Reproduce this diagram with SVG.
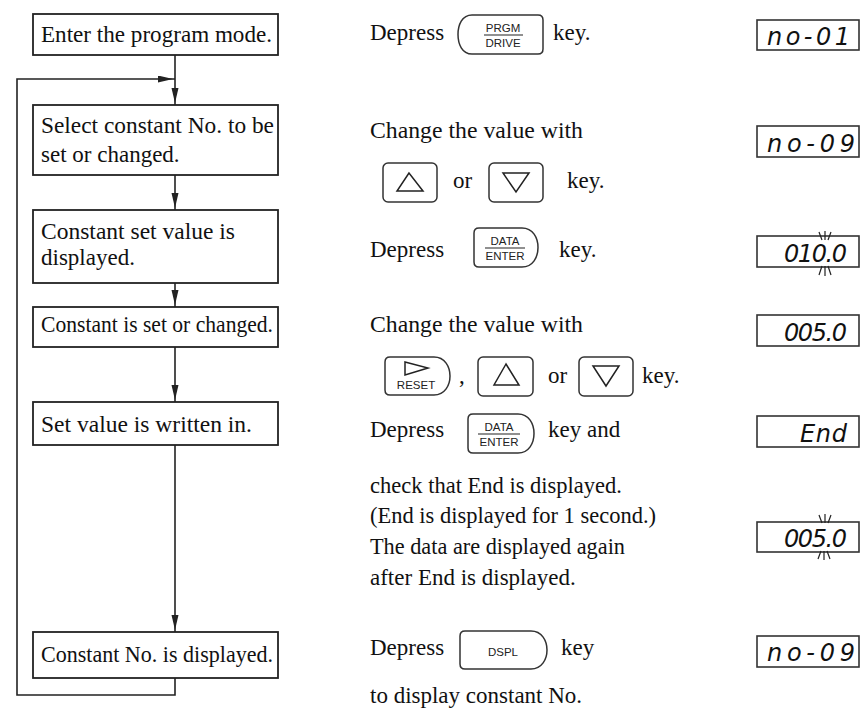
<svg xmlns="http://www.w3.org/2000/svg" width="860" height="708" viewBox="0 0 860 708">
<defs>
<style>
.bx{fill:#fff;stroke:#222;stroke-width:1.8}
.t{font-family:"Liberation Serif","Times New Roman",serif;font-size:23px;fill:#111}
.k{fill:#fff;stroke:#333;stroke-width:1.5}
.kl{font-family:"Liberation Sans",Arial,sans-serif;font-size:11.5px;fill:#222;text-anchor:middle}
.tri{fill:none;stroke:#222;stroke-width:1.5}
.ln{fill:none;stroke:#222;stroke-width:1.6}
.disp{fill:#fff;stroke:#333;stroke-width:1.6}
.seg{font-family:"DejaVu Sans",sans-serif;font-style:oblique;font-size:24px;fill:#111}
.fl{stroke:#222;stroke-width:1.2}
</style>
<marker id="ah" markerUnits="userSpaceOnUse" markerWidth="20" markerHeight="8" refX="17" refY="3.5" orient="auto">
<path d="M0,0 L15,3.5 L0,7 Z" fill="#222"/>
</marker>
</defs>

<g id="connectors">
<line class="ln" x1="175" y1="55" x2="175" y2="105" marker-end="url(#ah)"/>
<line class="ln" x1="175" y1="175" x2="175" y2="210" marker-end="url(#ah)"/>
<line class="ln" x1="175" y1="283" x2="175" y2="307" marker-end="url(#ah)"/>
<line class="ln" x1="175" y1="347" x2="175" y2="402" marker-end="url(#ah)"/>
<line class="ln" x1="175" y1="445" x2="175" y2="632" marker-end="url(#ah)"/>
<path class="ln" d="M175,678 V695 H17 V79 H175" marker-end="url(#ah)"/>
</g>

<g id="n1"><rect class="bx" x="33" y="14" width="245" height="41"/><text class="t" x="41" y="42" textLength="231" lengthAdjust="spacingAndGlyphs">Enter the program mode.</text></g>
<g id="n2"><rect class="bx" x="33" y="105" width="245" height="70"/><text class="t" x="41" y="133" textLength="233" lengthAdjust="spacingAndGlyphs">Select constant No. to be</text><text class="t" x="41" y="162">set or changed.</text></g>
<g id="n3"><rect class="bx" x="33" y="210" width="245" height="73"/><text class="t" x="41" y="239" textLength="194" lengthAdjust="spacingAndGlyphs">Constant set value is</text><text class="t" x="41" y="265">displayed.</text></g>
<g id="n4"><rect class="bx" x="33" y="307" width="245" height="40"/><text class="t" x="41" y="332" textLength="232" lengthAdjust="spacingAndGlyphs">Constant is set or changed.</text></g>
<g id="n5"><rect class="bx" x="33" y="402" width="245" height="43"/><text class="t" x="41" y="432" textLength="211" lengthAdjust="spacingAndGlyphs">Set value is written in.</text></g>
<g id="n6"><rect class="bx" x="33" y="632" width="245" height="46"/><text class="t" x="41" y="662" textLength="232" lengthAdjust="spacingAndGlyphs">Constant No. is displayed.</text></g>

<g id="step1">
<text class="t" x="370" y="40">Depress</text>
<path class="k" d="M472,15 H538 Q543,15 543,20 V49 Q543,54 538,54 H472 C462,54 458,44 458,34.5 C458,25 462,15 472,15 Z"/>
<text class="kl" x="503" y="32">PRGM</text><line class="fl" x1="484" y1="35" x2="523" y2="35"/><text class="kl" x="503" y="47">DRIVE</text>
<text class="t" x="553" y="40">key.</text>
</g>

<g id="step2">
<text class="t" x="370" y="138" textLength="213" lengthAdjust="spacingAndGlyphs">Change the value with</text>
<rect class="k" x="383" y="163" width="54" height="39" rx="5"/>
<path class="tri" d="M409,173 L397,191 H423 Z"/>
<text class="t" x="453" y="188">or</text>
<rect class="k" x="489" y="163" width="54" height="39" rx="5"/>
<path class="tri" d="M503,173 H529 L516,192 Z"/>
<text class="t" x="567" y="188">key.</text>
</g>

<g id="step3">
<text class="t" x="370" y="257">Depress</text>
<path class="k" d="M479,228 H522 C533,228 538,238 538,247.5 C538,257 533,267 522,267 H479 Q474,267 474,262 V233 Q474,228 479,228 Z"/>
<text class="kl" x="505" y="245">DATA</text><line class="fl" x1="485" y1="248" x2="525" y2="248"/><text class="kl" x="505" y="260">ENTER</text>
<text class="t" x="559" y="257">key.</text>
</g>

<g id="step4">
<text class="t" x="370" y="332" textLength="213" lengthAdjust="spacingAndGlyphs">Change the value with</text>
<path class="k" d="M390,357 H434 C445,357 450,367 450,376 C450,385 445,395 434,395 H390 Q385,395 385,390 V362 Q385,357 390,357 Z"/>
<path class="tri" d="M405,362 V375 L428,368 Z"/>
<text class="kl" x="416" y="389">RESET</text>
<text class="t" x="459" y="383">,</text>
<rect class="k" x="478" y="357" width="55" height="39" rx="5"/>
<path class="tri" d="M506,364 L494,385 H519 Z"/>
<text class="t" x="548" y="383">or</text>
<rect class="k" x="579" y="357" width="54" height="39" rx="5"/>
<path class="tri" d="M593,366 H619 L606,386 Z"/>
<text class="t" x="642" y="383">key.</text>
</g>

<g id="step5">
<text class="t" x="370" y="437">Depress</text>
<path class="k" d="M473,414 H518 C529,414 534,424 534,433.5 C534,443 529,453 518,453 H473 Q468,453 468,448 V419 Q468,414 473,414 Z"/>
<text class="kl" x="499" y="431">DATA</text><line class="fl" x1="478" y1="434" x2="520" y2="434"/><text class="kl" x="499" y="446">ENTER</text>
<text class="t" x="548" y="437">key and</text>
<text class="t" x="370" y="493" textLength="252" lengthAdjust="spacingAndGlyphs">check that End is displayed.</text>
<text class="t" x="370" y="523" textLength="286" lengthAdjust="spacingAndGlyphs">(End is displayed for 1 second.)</text>
<text class="t" x="370" y="554" textLength="255" lengthAdjust="spacingAndGlyphs">The data are displayed again</text>
<text class="t" x="370" y="585">after End is displayed.</text>
</g>

<g id="step6">
<text class="t" x="370" y="655">Depress</text>
<path class="k" d="M465,631 H531 C542,631 547,641 547,650 C547,659 542,669 531,669 H465 Q460,669 460,664 V636 Q460,631 465,631 Z"/>
<text class="kl" x="503" y="656">DSPL</text>
<text class="t" x="561" y="655">key</text>
<text class="t" x="370" y="703">to display constant No.</text>
</g>

<g id="displays">
<g id="d1"><rect class="disp" x="757" y="20" width="102" height="30"/><text class="seg" x="767" y="45" textLength="83" lengthAdjust="spacing">no-01</text></g>
<g id="d2"><rect class="disp" x="757" y="126" width="102" height="31"/><text class="seg" x="767" y="152" textLength="88" lengthAdjust="spacing">no-09</text></g>
<g id="d3"><rect class="disp" x="757" y="236" width="102" height="31"/><text class="seg" x="784" y="262" textLength="63" lengthAdjust="spacing">010.0</text>
<path class="fl" d="M819,232 L822,240 M825,231 V240 M831,232 L828,240 M819,275 L822,266 M825,276 V266 M831,275 L828,266"/></g>
<g id="d4"><rect class="disp" x="757" y="315" width="102" height="31"/><text class="seg" x="784" y="341" textLength="63" lengthAdjust="spacing">005.0</text></g>
<g id="d5"><rect class="disp" x="757" y="416" width="102" height="31"/><text class="seg" x="800" y="442" textLength="47" lengthAdjust="spacing">End</text></g>
<g id="d6"><rect class="disp" x="757" y="522" width="102" height="30"/><text class="seg" x="784" y="547" textLength="63" lengthAdjust="spacing">005.0</text>
<path class="fl" d="M819,515 L822,523 M825,514 V523 M831,515 L828,523 M818,559 L821,551 M824,560 V551 M830,559 L827,551"/></g>
<g id="d7"><rect class="disp" x="757" y="636" width="102" height="31"/><text class="seg" x="767" y="661" textLength="88" lengthAdjust="spacing">no-09</text></g>
</g>
</svg>
